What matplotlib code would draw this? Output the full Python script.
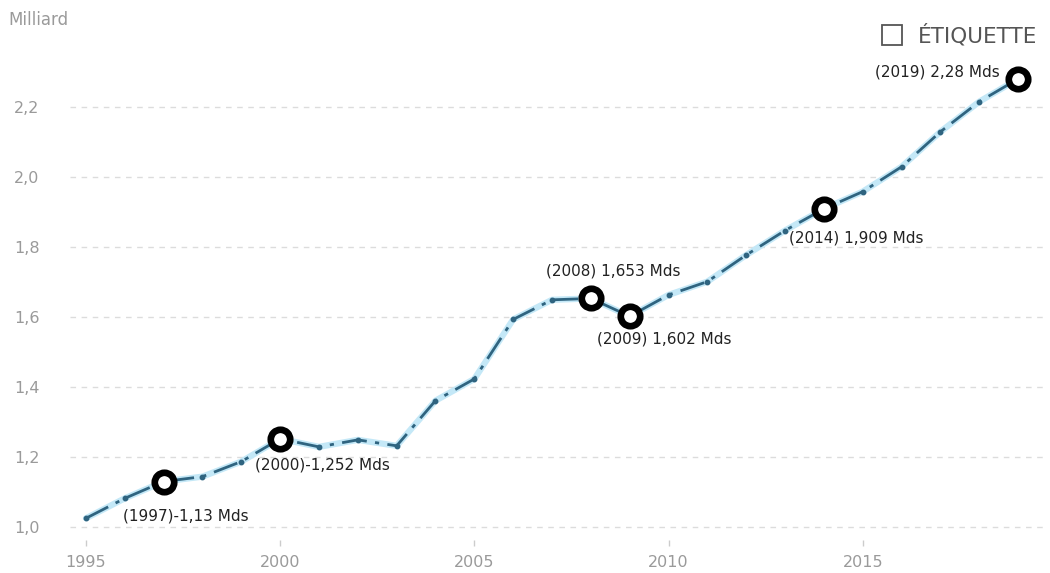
import matplotlib
matplotlib.use("Agg")
import matplotlib.pyplot as plt
from matplotlib.lines import Line2D

years = list(range(1995, 2020))
values = [1.025, 1.082, 1.13, 1.144, 1.187, 1.252, 1.229, 1.249, 1.232, 1.361,
          1.423, 1.593, 1.649, 1.653, 1.602, 1.663, 1.701, 1.777, 1.847, 1.909,
          1.958, 2.029, 2.129, 2.215, 2.28]
highlight_years = [1997, 2000, 2008, 2009, 2014, 2019]
highlight_labels = ["(1997)-1,13 Mds", "(2000)-1,252 Mds", "(2008) 1,653 Mds",
                    "(2009) 1,602 Mds", "(2014) 1,909 Mds", "(2019) 2,28 Mds"]
y_ticks = [1.0, 1.2, 1.4, 1.6, 1.8, 2.0, 2.2]
y_ticklabels = ["1,0", "1,2", "1,4", "1,6", "1,8", "2,0", "2,2"]
x_ticks = [1995, 2000, 2005, 2010, 2015]

fig = plt.figure(figsize=(10.5, 5.73), dpi=100)
ax = fig.add_axes([70/1050, 1-540/573, 978/1050, 480/573])

ax.set_xlim(1994.59, 2019.77)
ax.set_ylim(0.963, 2.334)

for s in ax.spines.values():
    s.set_visible(False)

ax.set_yticks(y_ticks)
ax.set_yticklabels(y_ticklabels)
ax.set_xticks(x_ticks)
ax.set_xticklabels([str(x) for x in x_ticks])
ax.tick_params(axis='y', length=0, pad=22, labelsize=11.5, labelcolor='#9a9a9a')
ax.tick_params(axis='x', length=4, width=1, color='#cccccc', pad=7, labelsize=11.5, labelcolor='#9a9a9a')
ax.grid(axis='y', linestyle=(0, (4, 4)), color='#dcdcdc', linewidth=1)
ax.set_axisbelow(True)

# glow + dash-dot line
ax.plot(years, values, color='#c4e8f7', linewidth=4.5, solid_capstyle='round', zorder=2)
ax.plot(years, values, color='#2f6480', linewidth=2, linestyle=(0, (9, 3, 1.5, 3)), zorder=3)
ax.plot(years, values, linestyle='none', marker='o', markersize=3.2, color='#2f6480', zorder=4)

vmap = dict(zip(years, values))
hx = highlight_years
hy = [vmap[y] for y in hx]
ax.plot(hx, hy, linestyle='none', marker='o', markersize=14, markerfacecolor='white',
        markeredgecolor='black', markeredgewidth=4.8, zorder=5)

offsets = {
    1997: (-41, -34, 'left'),
    2000: (-25, -26, 'left'),
    2008: (-45, 27, 'left'),
    2009: (-33, -23, 'left'),
    2014: (-35, -29, 'left'),
    2019: (-143, 7, 'left'),
}
for yr, lab in zip(hx, highlight_labels):
    dx, dy, ha = offsets[yr]
    ax.annotate(lab, (yr, vmap[yr]), xytext=(dx, dy), textcoords='offset pixels',
                ha=ha, va='center', fontsize=11, color='#222222', zorder=6)

fig.text(8/1050, 1-20/573, "Milliard", fontsize=12, color='#9a9a9a', va='center', ha='left')

handle = Line2D([], [], marker='s', linestyle='none', markerfacecolor='white',
                markeredgecolor='#555555', markeredgewidth=1.3, markersize=14)
fig.legend(handles=[handle], labels=["ÉTIQUETTE"], loc='center right',
           bbox_to_anchor=(1.0, 1-35/573), frameon=False, fontsize=15.5,
           labelcolor='#555555', handletextpad=0.2, borderaxespad=0.2)

fig.savefig("out.png", dpi=100)
